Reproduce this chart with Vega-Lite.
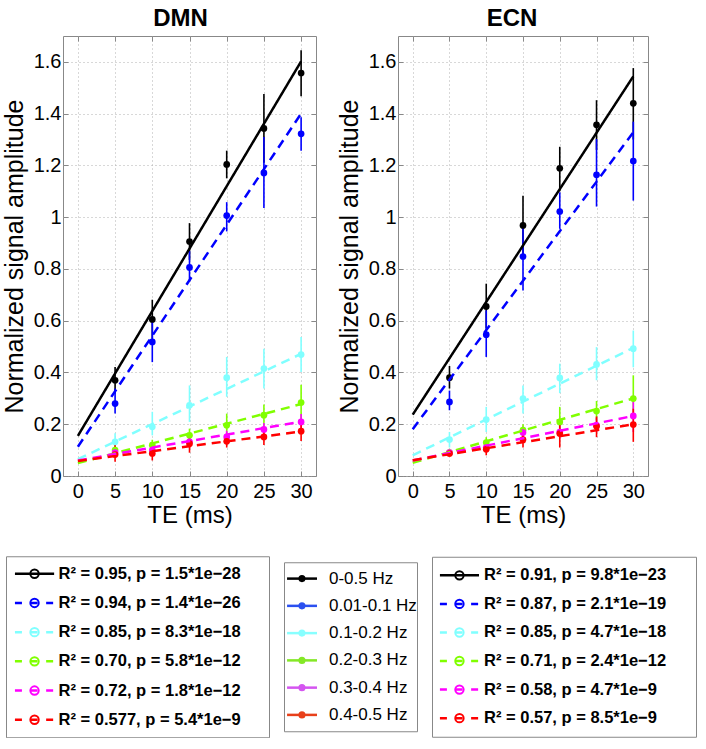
{
  "$schema": "https://vega.github.io/schema/vega-lite/v6.json",
  "padding": {"left": 1, "top": 6, "right": 0, "bottom": 0},
  "autosize": {"type": "pad"},
  "config": {
    "font": "Liberation Sans",
    "view": {"stroke": "#888888", "strokeWidth": 1},
    "axis": {"labelFont": "Liberation Sans", "titleFont": "Liberation Sans", "labelColor": "#000000", "titleColor": "#000000", "titleFontWeight": "normal", "tickColor": "#888888", "domain": false, "gridColor": "#b0b0b0", "gridDash": [1, 3], "labelFlush": false},
    "title": {"font": "Liberation Sans", "color": "#000000"}
  },
  "datasets": {
    "pts": [
      {"panel": "DMN", "series": "0-0.5 Hz", "te": 5, "mean": 0.370, "lo": 0.320, "hi": 0.421},
      {"panel": "DMN", "series": "0-0.5 Hz", "te": 10, "mean": 0.605, "lo": 0.530, "hi": 0.681},
      {"panel": "DMN", "series": "0-0.5 Hz", "te": 15, "mean": 0.906, "lo": 0.835, "hi": 0.977},
      {"panel": "DMN", "series": "0-0.5 Hz", "te": 20, "mean": 1.204, "lo": 1.150, "hi": 1.257},
      {"panel": "DMN", "series": "0-0.5 Hz", "te": 25, "mean": 1.343, "lo": 1.210, "hi": 1.476},
      {"panel": "DMN", "series": "0-0.5 Hz", "te": 30, "mean": 1.557, "lo": 1.467, "hi": 1.645},
      {"panel": "DMN", "series": "0.01-0.1 Hz", "te": 5, "mean": 0.280, "lo": 0.241, "hi": 0.338},
      {"panel": "DMN", "series": "0.01-0.1 Hz", "te": 10, "mean": 0.518, "lo": 0.440, "hi": 0.595},
      {"panel": "DMN", "series": "0.01-0.1 Hz", "te": 15, "mean": 0.806, "lo": 0.752, "hi": 0.870},
      {"panel": "DMN", "series": "0.01-0.1 Hz", "te": 20, "mean": 1.006, "lo": 0.945, "hi": 1.058},
      {"panel": "DMN", "series": "0.01-0.1 Hz", "te": 25, "mean": 1.171, "lo": 1.035, "hi": 1.310},
      {"panel": "DMN", "series": "0.01-0.1 Hz", "te": 30, "mean": 1.322, "lo": 1.257, "hi": 1.386},
      {"panel": "DMN", "series": "0.1-0.2 Hz", "te": 5, "mean": 0.132, "lo": 0.100, "hi": 0.165},
      {"panel": "DMN", "series": "0.1-0.2 Hz", "te": 10, "mean": 0.190, "lo": 0.157, "hi": 0.248},
      {"panel": "DMN", "series": "0.1-0.2 Hz", "te": 15, "mean": 0.273, "lo": 0.209, "hi": 0.350},
      {"panel": "DMN", "series": "0.1-0.2 Hz", "te": 20, "mean": 0.380, "lo": 0.306, "hi": 0.460},
      {"panel": "DMN", "series": "0.1-0.2 Hz", "te": 25, "mean": 0.415, "lo": 0.338, "hi": 0.492},
      {"panel": "DMN", "series": "0.1-0.2 Hz", "te": 30, "mean": 0.469, "lo": 0.402, "hi": 0.537},
      {"panel": "DMN", "series": "0.2-0.3 Hz", "te": 5, "mean": 0.100, "lo": 0.080, "hi": 0.120},
      {"panel": "DMN", "series": "0.2-0.3 Hz", "te": 10, "mean": 0.119, "lo": 0.100, "hi": 0.140},
      {"panel": "DMN", "series": "0.2-0.3 Hz", "te": 15, "mean": 0.157, "lo": 0.130, "hi": 0.183},
      {"panel": "DMN", "series": "0.2-0.3 Hz", "te": 20, "mean": 0.196, "lo": 0.150, "hi": 0.241},
      {"panel": "DMN", "series": "0.2-0.3 Hz", "te": 25, "mean": 0.235, "lo": 0.190, "hi": 0.276},
      {"panel": "DMN", "series": "0.2-0.3 Hz", "te": 30, "mean": 0.284, "lo": 0.220, "hi": 0.353},
      {"panel": "DMN", "series": "0.3-0.4 Hz", "te": 5, "mean": 0.090, "lo": 0.075, "hi": 0.105},
      {"panel": "DMN", "series": "0.3-0.4 Hz", "te": 10, "mean": 0.100, "lo": 0.085, "hi": 0.120},
      {"panel": "DMN", "series": "0.3-0.4 Hz", "te": 15, "mean": 0.132, "lo": 0.110, "hi": 0.155},
      {"panel": "DMN", "series": "0.3-0.4 Hz", "te": 20, "mean": 0.151, "lo": 0.130, "hi": 0.175},
      {"panel": "DMN", "series": "0.3-0.4 Hz", "te": 25, "mean": 0.180, "lo": 0.155, "hi": 0.205},
      {"panel": "DMN", "series": "0.3-0.4 Hz", "te": 30, "mean": 0.209, "lo": 0.180, "hi": 0.240},
      {"panel": "DMN", "series": "0.4-0.5 Hz", "te": 5, "mean": 0.083, "lo": 0.055, "hi": 0.120},
      {"panel": "DMN", "series": "0.4-0.5 Hz", "te": 10, "mean": 0.087, "lo": 0.060, "hi": 0.115},
      {"panel": "DMN", "series": "0.4-0.5 Hz", "te": 15, "mean": 0.125, "lo": 0.090, "hi": 0.160},
      {"panel": "DMN", "series": "0.4-0.5 Hz", "te": 20, "mean": 0.134, "lo": 0.110, "hi": 0.160},
      {"panel": "DMN", "series": "0.4-0.5 Hz", "te": 25, "mean": 0.151, "lo": 0.120, "hi": 0.185},
      {"panel": "DMN", "series": "0.4-0.5 Hz", "te": 30, "mean": 0.173, "lo": 0.135, "hi": 0.210},
      {"panel": "ECN", "series": "0-0.5 Hz", "te": 5, "mean": 0.380, "lo": 0.338, "hi": 0.425},
      {"panel": "ECN", "series": "0-0.5 Hz", "te": 10, "mean": 0.655, "lo": 0.570, "hi": 0.743},
      {"panel": "ECN", "series": "0-0.5 Hz", "te": 15, "mean": 0.968, "lo": 0.850, "hi": 1.083},
      {"panel": "ECN", "series": "0-0.5 Hz", "te": 20, "mean": 1.189, "lo": 1.100, "hi": 1.272},
      {"panel": "ECN", "series": "0-0.5 Hz", "te": 25, "mean": 1.357, "lo": 1.260, "hi": 1.452},
      {"panel": "ECN", "series": "0-0.5 Hz", "te": 30, "mean": 1.440, "lo": 1.300, "hi": 1.576},
      {"panel": "ECN", "series": "0.01-0.1 Hz", "te": 5, "mean": 0.286, "lo": 0.254, "hi": 0.330},
      {"panel": "ECN", "series": "0.01-0.1 Hz", "te": 10, "mean": 0.546, "lo": 0.460, "hi": 0.640},
      {"panel": "ECN", "series": "0.01-0.1 Hz", "te": 15, "mean": 0.848, "lo": 0.717, "hi": 0.960},
      {"panel": "ECN", "series": "0.01-0.1 Hz", "te": 20, "mean": 1.022, "lo": 0.955, "hi": 1.096},
      {"panel": "ECN", "series": "0.01-0.1 Hz", "te": 25, "mean": 1.164, "lo": 1.041, "hi": 1.302},
      {"panel": "ECN", "series": "0.01-0.1 Hz", "te": 30, "mean": 1.217, "lo": 1.064, "hi": 1.369},
      {"panel": "ECN", "series": "0.1-0.2 Hz", "te": 5, "mean": 0.141, "lo": 0.110, "hi": 0.170},
      {"panel": "ECN", "series": "0.1-0.2 Hz", "te": 10, "mean": 0.218, "lo": 0.170, "hi": 0.267},
      {"panel": "ECN", "series": "0.1-0.2 Hz", "te": 15, "mean": 0.299, "lo": 0.241, "hi": 0.350},
      {"panel": "ECN", "series": "0.1-0.2 Hz", "te": 20, "mean": 0.379, "lo": 0.320, "hi": 0.434},
      {"panel": "ECN", "series": "0.1-0.2 Hz", "te": 25, "mean": 0.431, "lo": 0.370, "hi": 0.498},
      {"panel": "ECN", "series": "0.1-0.2 Hz", "te": 30, "mean": 0.492, "lo": 0.420, "hi": 0.562},
      {"panel": "ECN", "series": "0.2-0.3 Hz", "te": 5, "mean": 0.090, "lo": 0.075, "hi": 0.105},
      {"panel": "ECN", "series": "0.2-0.3 Hz", "te": 10, "mean": 0.129, "lo": 0.110, "hi": 0.150},
      {"panel": "ECN", "series": "0.2-0.3 Hz", "te": 15, "mean": 0.177, "lo": 0.150, "hi": 0.200},
      {"panel": "ECN", "series": "0.2-0.3 Hz", "te": 20, "mean": 0.209, "lo": 0.160, "hi": 0.267},
      {"panel": "ECN", "series": "0.2-0.3 Hz", "te": 25, "mean": 0.251, "lo": 0.215, "hi": 0.290},
      {"panel": "ECN", "series": "0.2-0.3 Hz", "te": 30, "mean": 0.299, "lo": 0.220, "hi": 0.389},
      {"panel": "ECN", "series": "0.3-0.4 Hz", "te": 5, "mean": 0.090, "lo": 0.080, "hi": 0.100},
      {"panel": "ECN", "series": "0.3-0.4 Hz", "te": 10, "mean": 0.110, "lo": 0.095, "hi": 0.125},
      {"panel": "ECN", "series": "0.3-0.4 Hz", "te": 15, "mean": 0.168, "lo": 0.145, "hi": 0.190},
      {"panel": "ECN", "series": "0.3-0.4 Hz", "te": 20, "mean": 0.170, "lo": 0.145, "hi": 0.200},
      {"panel": "ECN", "series": "0.3-0.4 Hz", "te": 25, "mean": 0.196, "lo": 0.170, "hi": 0.225},
      {"panel": "ECN", "series": "0.3-0.4 Hz", "te": 30, "mean": 0.232, "lo": 0.170, "hi": 0.310},
      {"panel": "ECN", "series": "0.4-0.5 Hz", "te": 5, "mean": 0.087, "lo": 0.075, "hi": 0.100},
      {"panel": "ECN", "series": "0.4-0.5 Hz", "te": 10, "mean": 0.103, "lo": 0.080, "hi": 0.131},
      {"panel": "ECN", "series": "0.4-0.5 Hz", "te": 15, "mean": 0.141, "lo": 0.110, "hi": 0.170},
      {"panel": "ECN", "series": "0.4-0.5 Hz", "te": 20, "mean": 0.164, "lo": 0.110, "hi": 0.220},
      {"panel": "ECN", "series": "0.4-0.5 Hz", "te": 25, "mean": 0.192, "lo": 0.150, "hi": 0.230},
      {"panel": "ECN", "series": "0.4-0.5 Hz", "te": 30, "mean": 0.199, "lo": 0.132, "hi": 0.260}
    ],
    "fits": [
      {"panel": "DMN", "series": "0-0.5 Hz", "te": 0, "fit": 0.155},
      {"panel": "DMN", "series": "0-0.5 Hz", "te": 30, "fit": 1.602},
      {"panel": "DMN", "series": "0.01-0.1 Hz", "te": 0, "fit": 0.113},
      {"panel": "DMN", "series": "0.01-0.1 Hz", "te": 30, "fit": 1.400},
      {"panel": "DMN", "series": "0.1-0.2 Hz", "te": 0, "fit": 0.065},
      {"panel": "DMN", "series": "0.1-0.2 Hz", "te": 30, "fit": 0.472},
      {"panel": "DMN", "series": "0.2-0.3 Hz", "te": 0, "fit": 0.050},
      {"panel": "DMN", "series": "0.2-0.3 Hz", "te": 30, "fit": 0.278},
      {"panel": "DMN", "series": "0.3-0.4 Hz", "te": 0, "fit": 0.060},
      {"panel": "DMN", "series": "0.3-0.4 Hz", "te": 30, "fit": 0.210},
      {"panel": "DMN", "series": "0.4-0.5 Hz", "te": 0, "fit": 0.058},
      {"panel": "DMN", "series": "0.4-0.5 Hz", "te": 30, "fit": 0.172},
      {"panel": "ECN", "series": "0-0.5 Hz", "te": 0, "fit": 0.237},
      {"panel": "ECN", "series": "0-0.5 Hz", "te": 30, "fit": 1.544},
      {"panel": "ECN", "series": "0.01-0.1 Hz", "te": 0, "fit": 0.181},
      {"panel": "ECN", "series": "0.01-0.1 Hz", "te": 30, "fit": 1.328},
      {"panel": "ECN", "series": "0.1-0.2 Hz", "te": 0, "fit": 0.080},
      {"panel": "ECN", "series": "0.1-0.2 Hz", "te": 30, "fit": 0.495},
      {"panel": "ECN", "series": "0.2-0.3 Hz", "te": 0, "fit": 0.051},
      {"panel": "ECN", "series": "0.2-0.3 Hz", "te": 30, "fit": 0.300},
      {"panel": "ECN", "series": "0.3-0.4 Hz", "te": 0, "fit": 0.060},
      {"panel": "ECN", "series": "0.3-0.4 Hz", "te": 30, "fit": 0.232},
      {"panel": "ECN", "series": "0.4-0.5 Hz", "te": 0, "fit": 0.061},
      {"panel": "ECN", "series": "0.4-0.5 Hz", "te": 30, "fit": 0.200}
    ],
    "leg": [
      {"box": "DMN", "series": "0-0.5 Hz", "label": "R² = 0.95, p = 1.5*1e−28"},
      {"box": "DMN", "series": "0.01-0.1 Hz", "label": "R² = 0.94, p = 1.4*1e−26"},
      {"box": "DMN", "series": "0.1-0.2 Hz", "label": "R² = 0.85, p = 8.3*1e−18"},
      {"box": "DMN", "series": "0.2-0.3 Hz", "label": "R² = 0.70, p = 5.8*1e−12"},
      {"box": "DMN", "series": "0.3-0.4 Hz", "label": "R² = 0.72, p = 1.8*1e−12"},
      {"box": "DMN", "series": "0.4-0.5 Hz", "label": "R² = 0.577, p = 5.4*1e−9"},
      {"box": "band", "series": "0-0.5 Hz", "label": "0-0.5 Hz"},
      {"box": "band", "series": "0.01-0.1 Hz", "label": "0.01-0.1 Hz"},
      {"box": "band", "series": "0.1-0.2 Hz", "label": "0.1-0.2 Hz"},
      {"box": "band", "series": "0.2-0.3 Hz", "label": "0.2-0.3 Hz"},
      {"box": "band", "series": "0.3-0.4 Hz", "label": "0.3-0.4 Hz"},
      {"box": "band", "series": "0.4-0.5 Hz", "label": "0.4-0.5 Hz"},
      {"box": "ECN", "series": "0-0.5 Hz", "label": "R² = 0.91, p = 9.8*1e−23"},
      {"box": "ECN", "series": "0.01-0.1 Hz", "label": "R² = 0.87, p = 2.1*1e−19"},
      {"box": "ECN", "series": "0.1-0.2 Hz", "label": "R² = 0.85, p = 4.7*1e−18"},
      {"box": "ECN", "series": "0.2-0.3 Hz", "label": "R² = 0.71, p = 2.4*1e−12"},
      {"box": "ECN", "series": "0.3-0.4 Hz", "label": "R² = 0.58, p = 4.7*1e−9"},
      {"box": "ECN", "series": "0.4-0.5 Hz", "label": "R² = 0.57, p = 8.5*1e−9"}
    ]
  },
  "resolve": {"scale": {"color": "independent", "strokeDash": "independent"}},
  "spacing": 27,
  "vconcat": [
    {
      "spacing": -9,
      "hconcat": [
        {
          "width": 1, "height": 1,
          "view": {"stroke": null},
          "data": {"values": [{"k": 1}]},
          "mark": {"type": "point", "opacity": 0},
          "encoding": {}
        },
        {
          "spacing": 19,
          "hconcat": [
            {
              "width": 253, "height": 440,
              "title": {"text": "DMN", "fontSize": 24, "fontWeight": "bold", "offset": 5, "dx": -9},
              "resolve": {"axis": {"x": "independent", "y": "independent"}},
              "layer": [
                {
                  "data": {"name": "pts"},
                  "transform": [{"filter": "datum.panel === 'DMN'"}],
                  "mark": {"type": "rule", "strokeWidth": 1.6},
                  "encoding": {
                    "x": {"field": "te", "type": "quantitative", "scale": {"domain": [-2, 32], "nice": false, "zero": false},
                          "axis": {"orient": "bottom", "values": [0, 5, 10, 15, 20, 25, 30], "title": "TE (ms)", "titleFontSize": 24, "titlePadding": 2, "labelFontSize": 20, "labelPadding": 10, "tickSize": -5, "grid": true}},
                    "y": {"field": "lo", "type": "quantitative", "scale": {"domain": [0, 1.7], "nice": false},
                          "axis": {"orient": "left", "values": [0, 0.2, 0.4, 0.6, 0.8, 1, 1.2, 1.4, 1.6], "format": "~g", "title": "Normalized signal amplitude", "titleFontSize": 25, "titlePadding": 6, "labelFontSize": 20, "labelPadding": 7, "tickSize": -5, "grid": true}},
                    "y2": {"field": "hi"},
                    "color": {"field": "series", "type": "nominal", "legend": null,
                              "scale": {"domain": ["0-0.5 Hz", "0.01-0.1 Hz", "0.1-0.2 Hz", "0.2-0.3 Hz", "0.3-0.4 Hz", "0.4-0.5 Hz"], "range": ["#000000", "#0000ff", "#80ffff", "#80ff00", "#ff00ff", "#ff0000"]}}
                  }
                },
                {
                  "data": {"name": "pts"},
                  "transform": [{"filter": "datum.panel === 'DMN'"}],
                  "mark": {"type": "point", "filled": true, "opacity": 1, "size": 45},
                  "encoding": {
                    "x": {"field": "te", "type": "quantitative", "axis": {"orient": "top", "values": [0, 5, 10, 15, 20, 25, 30], "labels": false, "title": null, "tickSize": -5, "grid": false}},
                    "y": {"field": "mean", "type": "quantitative", "axis": {"orient": "right", "values": [0, 0.2, 0.4, 0.6, 0.8, 1, 1.2, 1.4, 1.6], "labels": false, "title": null, "tickSize": -5, "grid": false}},
                    "color": {"field": "series", "type": "nominal", "legend": null}
                  }
                },
                {
                  "data": {"name": "fits"},
                  "transform": [{"filter": "datum.panel === 'DMN'"}],
                  "mark": {"type": "line", "strokeWidth": 2.5},
                  "encoding": {
                    "x": {"field": "te", "type": "quantitative", "axis": null},
                    "y": {"field": "fit", "type": "quantitative", "axis": null},
                    "color": {"field": "series", "type": "nominal", "legend": null},
                    "strokeDash": {"field": "series", "type": "nominal", "legend": null,
                                   "scale": {"domain": ["0-0.5 Hz", "0.01-0.1 Hz", "0.1-0.2 Hz", "0.2-0.3 Hz", "0.3-0.4 Hz", "0.4-0.5 Hz"], "range": [[1, 0], [9, 6], [9, 6], [9, 6], [9, 6], [9, 6]]}}
                  }
                }
              ]
            },
            {
              "width": 250, "height": 440,
              "title": {"text": "ECN", "fontSize": 24, "fontWeight": "bold", "offset": 5, "dx": -11},
              "resolve": {"axis": {"x": "independent", "y": "independent"}},
              "layer": [
                {
                  "data": {"name": "pts"},
                  "transform": [{"filter": "datum.panel === 'ECN'"}],
                  "mark": {"type": "rule", "strokeWidth": 1.6},
                  "encoding": {
                    "x": {"field": "te", "type": "quantitative", "scale": {"domain": [-2, 32], "nice": false, "zero": false},
                          "axis": {"orient": "bottom", "values": [0, 5, 10, 15, 20, 25, 30], "title": "TE (ms)", "titleFontSize": 24, "titlePadding": 2, "labelFontSize": 20, "labelPadding": 10, "tickSize": -5, "grid": true}},
                    "y": {"field": "lo", "type": "quantitative", "scale": {"domain": [0, 1.7], "nice": false},
                          "axis": {"orient": "left", "values": [0, 0.2, 0.4, 0.6, 0.8, 1, 1.2, 1.4, 1.6], "format": "~g", "title": "Normalized signal amplitude", "titleFontSize": 25, "titlePadding": 6, "labelFontSize": 20, "labelPadding": 7, "tickSize": -5, "grid": true}},
                    "y2": {"field": "hi"},
                    "color": {"field": "series", "type": "nominal", "legend": null,
                              "scale": {"domain": ["0-0.5 Hz", "0.01-0.1 Hz", "0.1-0.2 Hz", "0.2-0.3 Hz", "0.3-0.4 Hz", "0.4-0.5 Hz"], "range": ["#000000", "#0000ff", "#80ffff", "#80ff00", "#ff00ff", "#ff0000"]}}
                  }
                },
                {
                  "data": {"name": "pts"},
                  "transform": [{"filter": "datum.panel === 'ECN'"}],
                  "mark": {"type": "point", "filled": true, "opacity": 1, "size": 45},
                  "encoding": {
                    "x": {"field": "te", "type": "quantitative", "axis": {"orient": "top", "values": [0, 5, 10, 15, 20, 25, 30], "labels": false, "title": null, "tickSize": -5, "grid": false}},
                    "y": {"field": "mean", "type": "quantitative", "axis": {"orient": "right", "values": [0, 0.2, 0.4, 0.6, 0.8, 1, 1.2, 1.4, 1.6], "labels": false, "title": null, "tickSize": -5, "grid": false}},
                    "color": {"field": "series", "type": "nominal", "legend": null}
                  }
                },
                {
                  "data": {"name": "fits"},
                  "transform": [{"filter": "datum.panel === 'ECN'"}],
                  "mark": {"type": "line", "strokeWidth": 2.5},
                  "encoding": {
                    "x": {"field": "te", "type": "quantitative", "axis": null},
                    "y": {"field": "fit", "type": "quantitative", "axis": null},
                    "color": {"field": "series", "type": "nominal", "legend": null},
                    "strokeDash": {"field": "series", "type": "nominal", "legend": null,
                                   "scale": {"domain": ["0-0.5 Hz", "0.01-0.1 Hz", "0.1-0.2 Hz", "0.2-0.3 Hz", "0.3-0.4 Hz", "0.4-0.5 Hz"], "range": [[1, 0], [9, 6], [9, 6], [9, 6], [9, 6], [9, 6]]}}
                  }
                }
              ]
            }
          ]
        }
      ]
    },
    {
      "spacing": 13,
      "center": true,
      "resolve": {"scale": {"color": "independent", "strokeDash": "independent"}},
      "hconcat": [
        {
          "width": 263, "height": 181,
          "data": {"name": "leg"},
          "transform": [{"filter": "datum.box === 'DMN'"}],
          "encoding": {
            "y": {"field": "series", "type": "nominal", "axis": null,
                  "scale": {"type": "point", "padding": 0.6, "domain": ["0-0.5 Hz", "0.01-0.1 Hz", "0.1-0.2 Hz", "0.2-0.3 Hz", "0.3-0.4 Hz", "0.4-0.5 Hz"]}}
          },
          "layer": [
            {
              "mark": {"type": "rule", "strokeWidth": 2.5},
              "encoding": {
                "x": {"datum": 0.034, "type": "quantitative", "scale": {"domain": [0, 1], "nice": false, "zero": false}, "axis": null},
                "x2": {"datum": 0.183},
                "color": {"field": "series", "type": "nominal", "legend": null,
                          "scale": {"domain": ["0-0.5 Hz", "0.01-0.1 Hz", "0.1-0.2 Hz", "0.2-0.3 Hz", "0.3-0.4 Hz", "0.4-0.5 Hz"], "range": ["#000000", "#0000ff", "#80ffff", "#80ff00", "#ff00ff", "#ff0000"]}},
                "strokeDash": {"field": "series", "type": "nominal", "legend": null,
                               "scale": {"domain": ["0-0.5 Hz", "0.01-0.1 Hz", "0.1-0.2 Hz", "0.2-0.3 Hz", "0.3-0.4 Hz", "0.4-0.5 Hz"], "range": [[1, 0], [7, 8.6], [7, 8.6], [7, 8.6], [7, 8.6], [7, 8.6]]}}
              }
            },
            {
              "mark": {"type": "point", "filled": false, "size": 70, "strokeWidth": 2, "opacity": 1},
              "encoding": {
                "x": {"datum": 0.1085, "type": "quantitative"},
                "color": {"field": "series", "type": "nominal", "legend": null}
              }
            },
            {
              "mark": {"type": "text", "align": "left", "baseline": "middle", "fontSize": 16.5, "fontWeight": "bold", "color": "#000000"},
              "encoding": {
                "x": {"datum": 0.2, "type": "quantitative"},
                "text": {"field": "label"}
              }
            }
          ]
        },
        {
          "width": 133, "height": 169,
          "data": {"name": "leg"},
          "transform": [{"filter": "datum.box === 'band'"}],
          "encoding": {
            "y": {"field": "series", "type": "nominal", "axis": null,
                  "scale": {"type": "point", "padding": 0.6, "domain": ["0-0.5 Hz", "0.01-0.1 Hz", "0.1-0.2 Hz", "0.2-0.3 Hz", "0.3-0.4 Hz", "0.4-0.5 Hz"]}}
          },
          "layer": [
            {
              "mark": {"type": "rule", "strokeWidth": 2.5},
              "encoding": {
                "x": {"datum": 0.023, "type": "quantitative", "scale": {"domain": [0, 1], "nice": false, "zero": false}, "axis": null},
                "x2": {"datum": 0.248},
                "color": {"field": "series", "type": "nominal", "legend": null,
                          "scale": {"domain": ["0-0.5 Hz", "0.01-0.1 Hz", "0.1-0.2 Hz", "0.2-0.3 Hz", "0.3-0.4 Hz", "0.4-0.5 Hz"], "range": ["#000000", "#2b50f0", "#88ffff", "#84e826", "#d455f0", "#e8401a"]}}
              }
            },
            {
              "mark": {"type": "point", "filled": true, "size": 50, "opacity": 1},
              "encoding": {
                "x": {"datum": 0.135, "type": "quantitative"},
                "color": {"field": "series", "type": "nominal", "legend": null}
              }
            },
            {
              "mark": {"type": "text", "align": "left", "baseline": "middle", "fontSize": 17, "color": "#000000"},
              "encoding": {
                "x": {"datum": 0.338, "type": "quantitative"},
                "text": {"field": "label"}
              }
            }
          ]
        },
        {
          "width": 264, "height": 180,
          "data": {"name": "leg"},
          "transform": [{"filter": "datum.box === 'ECN'"}],
          "encoding": {
            "y": {"field": "series", "type": "nominal", "axis": null,
                  "scale": {"type": "point", "padding": 0.65, "domain": ["0-0.5 Hz", "0.01-0.1 Hz", "0.1-0.2 Hz", "0.2-0.3 Hz", "0.3-0.4 Hz", "0.4-0.5 Hz"]}}
          },
          "layer": [
            {
              "mark": {"type": "rule", "strokeWidth": 2.5},
              "encoding": {
                "x": {"datum": 0.030, "type": "quantitative", "scale": {"domain": [0, 1], "nice": false, "zero": false}, "axis": null},
                "x2": {"datum": 0.178},
                "color": {"field": "series", "type": "nominal", "legend": null,
                          "scale": {"domain": ["0-0.5 Hz", "0.01-0.1 Hz", "0.1-0.2 Hz", "0.2-0.3 Hz", "0.3-0.4 Hz", "0.4-0.5 Hz"], "range": ["#000000", "#0000ff", "#80ffff", "#80ff00", "#ff00ff", "#ff0000"]}},
                "strokeDash": {"field": "series", "type": "nominal", "legend": null,
                               "scale": {"domain": ["0-0.5 Hz", "0.01-0.1 Hz", "0.1-0.2 Hz", "0.2-0.3 Hz", "0.3-0.4 Hz", "0.4-0.5 Hz"], "range": [[1, 0], [7, 8.6], [7, 8.6], [7, 8.6], [7, 8.6], [7, 8.6]]}}
              }
            },
            {
              "mark": {"type": "point", "filled": false, "size": 70, "strokeWidth": 2, "opacity": 1},
              "encoding": {
                "x": {"datum": 0.104, "type": "quantitative"},
                "color": {"field": "series", "type": "nominal", "legend": null}
              }
            },
            {
              "mark": {"type": "text", "align": "left", "baseline": "middle", "fontSize": 16.5, "fontWeight": "bold", "color": "#000000"},
              "encoding": {
                "x": {"datum": 0.197, "type": "quantitative"},
                "text": {"field": "label"}
              }
            }
          ]
        }
      ]
    }
  ]
}
